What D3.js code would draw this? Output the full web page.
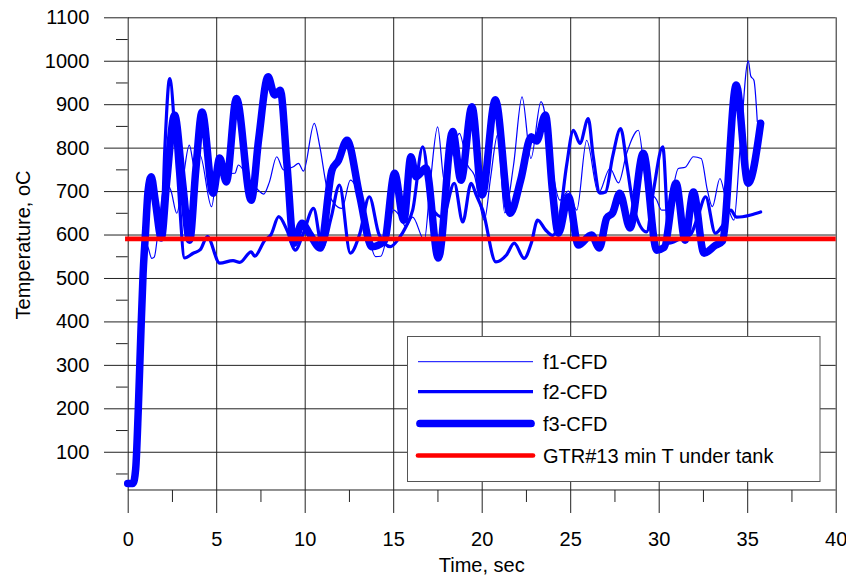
<!DOCTYPE html>
<meta charset="utf-8">
<title>temperature vs time</title>
<style>
body {
  margin: 0px;
  background: #fff;
}
text {
  font-family: "Liberation Sans", Arial, sans-serif;
  fill: #000;
}
.grid line, .tk line {
  stroke: #222;
  stroke-width: 1;
}
</style>
<script src="https://d3js.org/d3.v7.min.js"></script>
<body>
<script>
var width = 846, height = 577;

// [time sec, temperature C]
var f1 = [[0,27],[0.3,27],[0.45,60],[0.6,200],[0.75,380],[0.87,510],[1.0,580],[1.15,570],[1.36,545],[1.5,548],
  [1.75,620],[2.1,720],[2.45,700],[2.77,649],[3.1,720],[3.48,806],[3.8,749],[4.08,783],[4.74,664],[5.12,764],
  [5.5,740],[6.06,741],[6.25,760],[6.8,730],[7.38,702],[7.68,693],[8.0,720],[8.42,779],[8.8,749],[9.36,756],
  [9.65,764],[9.93,746],[10.54,856],[10.86,801],[11.24,710],[11.7,670],[12.1,660],[12.58,725],[13.2,672],[13.6,600],
  [14.0,549],[14.3,550],[15.03,656],[15.4,640],[15.72,618],[16.1,640],[16.76,587],[17.1,720],[17.51,848],[17.9,720],
  [18.3,780],[18.74,833],[19.2,760],[19.58,737],[20.15,633],[20.5,730],[20.9,830],[21.3,650],[21.8,760],[22.28,917],
  [22.78,775],[23.35,906],[23.8,820],[24.1,725],[24.42,679],[24.9,700],[25.37,656],[25.93,817],[26.59,695],[27.25,752],
  [27.73,719],[28.19,787],[28.85,840],[29.32,710],[29.88,680],[30.17,656],[30.5,656],[31.11,752],[31.5,755],[31.96,779],
  [32.4,775],[32.75,702],[33.03,664],[33.46,729],[33.8,680],[34.25,633],[34.6,800],[35.06,1000],[35.2,965],[35.38,955],
  [35.57,860]];

var f2 = [[0,27],[0.3,27],[0.45,60],[0.6,200],[0.75,380],[0.87,510],[1.0,600],[1.15,690],[1.33,725],[1.6,660],
  [1.9,600],[2.1,800],[2.37,959],[2.8,750],[3.22,546],[3.7,557],[4.1,565],[4.5,595],[5.2,534],[5.95,540],
  [6.33,536],[6.98,560],[7.17,550],[7.75,587],[8.1,600],[8.53,641],[9.0,610],[9.47,564],[9.9,600],[10.5,660],
  [10.99,570],[11.5,640],[11.96,714],[12.58,557],[13.1,600],[13.65,687],[14.2,600],[14.84,572],[15.3,590],[15.72,618],
  [16.1,656],[16.67,802],[17.2,660],[17.8,640],[18.45,718],[18.93,629],[19.4,718],[19.7,690],[20.06,656],[20.8,537],
  [21.4,553],[21.84,580],[22.4,545],[22.8,580],[23.16,633],[23.6,611],[24.0,598],[24.4,640],[24.8,760],[25.18,840],
  [25.55,810],[26.02,867],[26.3,780],[26.68,695],[27.0,698],[27.4,780],[27.85,844],[28.2,760],[28.6,660],[29.32,606],
  [29.7,700],[30.23,802],[30.6,580],[31.2,590],[31.8,600],[32.2,640],[32.65,687],[33.2,603],[33.6,620],[34.07,656],
  [34.4,640],[34.73,641],[35.2,645],[35.76,652]];

var f3 = [[0,27],[0.3,27],[0.45,60],[0.6,200],[0.75,380],[0.87,510],[1.0,600],[1.15,700],[1.33,733],[1.55,680],
  [1.9,592],[2.2,720],[2.65,875],[3.1,720],[3.5,587],[3.85,750],[4.2,882],[4.82,695],[5.2,776],[5.57,721],
  [6.14,913],[6.98,679],[7.4,820],[7.93,963],[8.3,921],[8.62,932],[9.0,760],[9.38,580],[9.85,626],[10.3,600],
  [10.88,569],[11.54,748],[11.9,770],[12.39,817],[13.1,690],[13.8,572],[14.5,585],[15.08,741],[15.6,633],[16.0,779],
  [16.29,733],[16.85,753],[17.55,546],[18.36,837],[18.83,725],[19.45,894],[20.02,691],[20.77,910],[21.6,649],[22.2,725],
  [22.8,825],[23.1,815],[23.6,875],[24.0,700],[24.33,603],[24.9,687],[25.46,576],[26.2,599],[26.65,569],[27.06,638],
  [27.4,650],[27.8,695],[28.38,615],[29.13,787],[29.89,564],[30.3,570],[30.98,718],[31.49,587],[31.96,698],[32.56,557],
  [33.2,575],[33.6,585],[34.38,944],[35.05,718],[35.76,856]];

var minT = 590;   // GTR#13 min T under tank

var xMajor = [0,5,10,15,20,25,30,35,40];
var xMinor = [2.5,7.5,12.5,17.5,22.5,27.5,32.5,37.5];
var yMajor = [100,200,300,400,500,600,700,800,900,1000,1100];
var yMinor = [50,150,250,350,450,550,650,750,850,950,1050];
var legendNames = ["f1-CFD", "f2-CFD", "f3-CFD", "GTR#13 min T under tank"];
var yBottom = 12;

var x = d3.scaleLinear().domain([0, 40]).range([127.7, 835.7]);
var y = d3.scaleLinear().domain([0, 1100]).range([495.2, 17.3]);
var axisY = y(yBottom);

var svg = d3.select("body").append("svg")
    .attr("width", width)
    .attr("height", height);

// horizontal grid + left ticks
svg.append("g").attr("class", "grid")
    .attr("transform", "translate(" + x(0) + ",0)")
    .call(d3.axisLeft(y).tickValues(yMajor).tickSize(-(x(40) - x(0))).tickFormat(""))
    .call(function(g) { g.select(".domain").remove(); });
svg.append("g").attr("class", "tk")
    .attr("transform", "translate(" + x(0) + ",0)")
    .call(d3.axisLeft(y).tickValues(yMajor).tickSize(23.7).tickPadding(14.7).tickFormat(d3.format("d")))
    .call(function(g) { g.select(".domain").remove(); })
    .selectAll("text").style("font-size", "20px");
svg.append("g").attr("class", "tk")
    .attr("transform", "translate(" + x(0) + ",0)")
    .call(d3.axisLeft(y).tickValues(yMinor).tickSize(11.7).tickFormat(""))
    .call(function(g) { g.select(".domain").remove(); });

// vertical grid + bottom ticks
svg.append("g").attr("class", "grid")
    .attr("transform", "translate(0," + axisY + ")")
    .call(d3.axisBottom(x).tickValues(xMajor).tickSize(-(axisY - y(1100))).tickFormat(""))
    .call(function(g) { g.select(".domain").remove(); });
svg.append("g").attr("class", "tk")
    .attr("transform", "translate(0," + axisY + ")")
    .call(d3.axisBottom(x).tickValues(xMajor).tickSize(23).tickPadding(18.7))
    .call(function(g) { g.select(".domain").remove(); })
    .selectAll("text").style("font-size", "20px");
svg.append("g").attr("class", "tk")
    .attr("transform", "translate(0," + axisY + ")")
    .call(d3.axisBottom(x).tickValues(xMinor).tickSize(12).tickFormat(""))
    .call(function(g) { g.select(".domain").remove(); });

svg.append("line")
    .attr("x1", x(0)).attr("x2", x(40))
    .attr("y1", axisY).attr("y2", axisY)
    .style("stroke", "#222");

// series
var line = d3.line()
    .x(function(d) { return x(d[0]); })
    .y(function(d) { return y(d[1]); })
    .curve(d3.curveMonotoneX);

var series = [
  {data: f1, w: 1.2},
  {data: f2, w: 3.2},
  {data: f3, w: 7.5}
];
svg.selectAll("path.series")
    .data(series)
  .enter().append("path")
    .attr("class", "series")
    .attr("d", function(d) { return line(d.data); })
    .style("fill", "none")
    .style("stroke", "#0000ff")
    .style("stroke-width", function(d) { return d.w; })
    .style("stroke-linejoin", "round")
    .style("stroke-linecap", "round");

svg.append("line")
    .attr("x1", x(-0.15)).attr("x2", x(40))
    .attr("y1", y(minT)).attr("y2", y(minT))
    .style("stroke", "#ff0000")
    .style("stroke-width", 4.7);

// legend
var legend = svg.append("g");
legend.append("rect")
    .attr("x", 407.5).attr("y", 336.5)
    .attr("width", 412.5).attr("height", 145)
    .style("fill", "#fff")
    .style("stroke", "#555");
var legColors = ["#0000ff", "#0000ff", "#0000ff", "#ff0000"];
var legW = [1, 3.3, 7.7, 4.7];
var legY = [361.7, 391.7, 423.5, 455.5];
legend.selectAll("line")
    .data(legendNames)
  .enter().append("line")
    .attr("x1", function(d, i) { return i == 2 ? 420 : 418; })
    .attr("x2", function(d, i) { return i == 2 ? 531 : 533; })
    .attr("y1", function(d, i) { return legY[i]; })
    .attr("y2", function(d, i) { return legY[i]; })
    .style("stroke", function(d, i) { return legColors[i]; })
    .style("stroke-width", function(d, i) { return legW[i]; })
    .style("stroke-linecap", function(d, i) { return i >= 2 ? "round" : "butt"; });
legend.selectAll("text")
    .data(legendNames)
  .enter().append("text")
    .attr("x", 543)
    .attr("y", function(d, i) { return legY[i]; })
    .attr("dy", "0.35em")
    .style("font-size", "20px")
    .text(function(d) { return d; });

// titles
svg.append("text")
    .attr("x", x(20)).attr("y", 572)
    .attr("text-anchor", "middle")
    .style("font-size", "20px")
    .text("Time, sec");
svg.append("text")
    .attr("transform", "translate(30," + 245 + ") rotate(-90)")
    .attr("text-anchor", "middle")
    .style("font-size", "20px")
    .text("Temperature, oC");
</script>
